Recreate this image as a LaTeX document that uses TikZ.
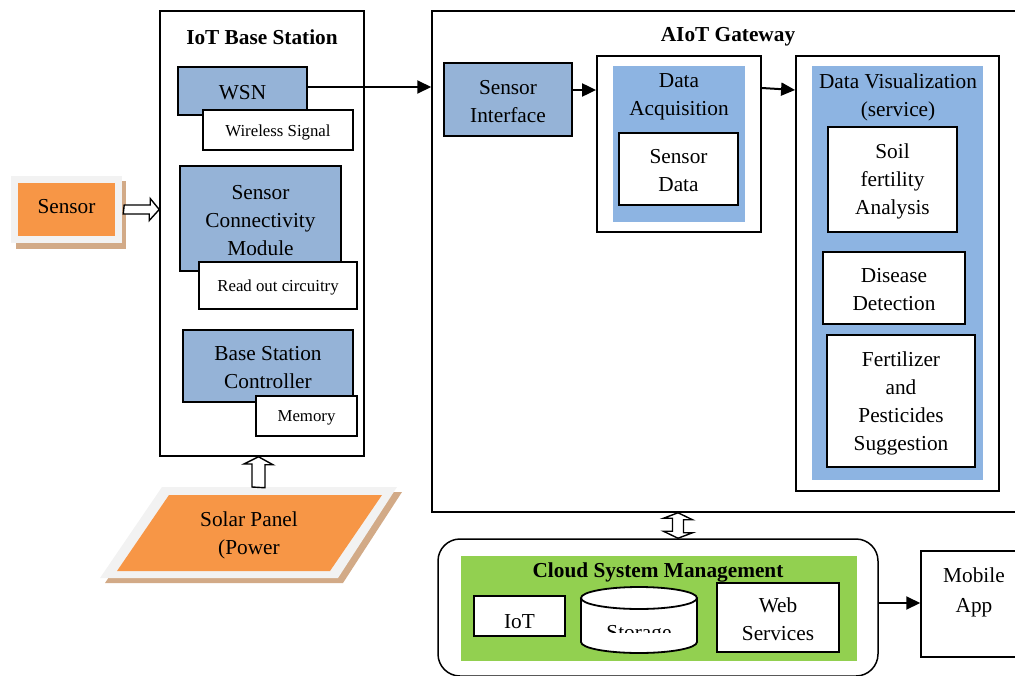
\documentclass[tikz,border=0pt]{standalone}
\usepackage{fontspec}
\setmainfont{Liberation Serif}
\usetikzlibrary{calc,arrows.meta}
\definecolor{blueA}{HTML}{95B3D7}
\definecolor{blueB}{HTML}{8DB4E2}
\definecolor{orangeA}{HTML}{F79646}
\definecolor{greenA}{HTML}{92D050}
\definecolor{tanA}{RGB}{210,170,135}
\definecolor{greyA}{RGB}{242,242,242}
\newcommand\mf{\fontsize{21.3}{28}\selectfont}
\newcommand\smf{\fontsize{16.8}{19}\selectfont}
\newcommand\tf{\fontsize{21.3}{24}\selectfont\bfseries}
\tikzset{
  box/.style={draw, inner sep=0pt, align=center, font=\mf},
  outerbox/.style={box, line width=1.5pt, fill=white},
  bluebox/.style={box, line width=2pt, fill=blueA},
  whitebox/.style={box, line width=2pt, fill=white},
  smallbox/.style={box, line width=1.5pt, fill=white, font=\smf},
  txt/.style={inner sep=0pt, align=center, font=\mf},
  ttl/.style={inner sep=0pt, align=center, font=\tf},
  T/.style={label={[txt,yshift=-2pt]center:{#1}}},
  TS/.style={label={[txt,font=\smf,yshift=-2pt]center:{#1}}},
  conn/.style={line width=2pt, -{Triangle[length=14pt,width=13pt]}},
  hollow/.style={draw, line width=1.4pt, fill=white, line join=miter},
}
\begin{document}
\begin{tikzpicture}[x=1pt,y=-1pt]
\useasboundingbox (0,0) rectangle (1015,675);
% ---------- IoT Base Station ----------
\node[outerbox, minimum width=204pt, minimum height=445pt] (bs) at (262,233.5) {};
\node[ttl] (bstitle) at (262,37) {IoT Base Station};
\node[bluebox, minimum width=129pt, minimum height=48pt, T={WSN}] (wsn) at (242.5,91) {};
\node[smallbox, minimum width=150pt, minimum height=40pt, TS={Wireless Signal}] (wls) at (278,130) {};
\node[bluebox, minimum width=161pt, minimum height=105pt, T={Sensor\\Connectivity\\Module}] (scm) at (260.5,218.5) {};
\node[smallbox, minimum width=158pt, minimum height=47pt, TS={Read out circuitry}] (roc) at (278,285.5) {};
\node[bluebox, minimum width=170pt, minimum height=72pt, T={Base Station\\Controller}] (bsc) at (268,366) {};
\node[smallbox, minimum width=101pt, minimum height=40pt, TS={Memory}] (mem) at (306.5,416) {};
% ---------- Sensor ----------
\fill[tanA] (16,181) rectangle (126,249);
\node[draw=none, fill=greyA, minimum width=111pt, minimum height=67pt, inner sep=0pt] (sensorbg) at (66.5,209.5) {};
\node[box, draw=none, fill=orangeA, minimum width=97pt, minimum height=53pt] (sensor) at (66.5,209.5) {};
\node[txt] (sensortxt) at (66.5,207) {Sensor};
\draw[hollow] ($(sensorbg.east)+(2,-4.5)$) -- ++(26,0) -- ++(0,-6.5) -- (bs.west |- sensorbg.east) -- ++(-10,11) -- ++(0,-6.5) -- ++(-26,0) -- cycle;
% ---------- Solar panel ----------
\fill[tanA] (167,492) -- (402,492) -- (343,583) -- (105,583) -- cycle;
\fill[greyA] (162,487) -- (397,487) -- (338,578) -- (100,578) -- cycle;
\fill[orangeA] (169,495) -- (382,495) -- (330,571) -- (117,571) -- cycle;
\node[txt] (solar) at (249,535) {Solar Panel\\(Power};
\coordinate (solartop) at (258.5,487);
\draw[hollow] ($(solartop)+(-6.5,0)$) -- ++(0,-23) -- ++(-8,0) -- (solartop |- bs.south) -- ++(14.5,8) -- ++(-8,0) -- ++(0,23) -- cycle;
% ---------- AIoT Gateway ----------
\node[outerbox, minimum width=593pt, minimum height=501pt] (gw) at (728.5,261.5) {};
\node[ttl] (gwtitle) at (728,37) {AIoT Gateway};
\node[bluebox, minimum width=128pt, minimum height=73pt, T={Sensor\\Interface}] (si) at (508,99.5) {};
\node[outerbox, line width=1.8pt, minimum width=164pt, minimum height=176pt] (da) at (679,144) {};
\node[box, draw=none, fill=blueB, minimum width=132pt, minimum height=156pt] (dab) at (679,144) {};
\node[txt] (datitle) at (679,97) {Data\\Acquisition};
\node[whitebox, minimum width=119pt, minimum height=72pt, T={Sensor\\Data}] (sd) at (678.5,169) {};
\node[outerbox, line width=1.8pt, minimum width=203pt, minimum height=435pt] (dv) at (897.5,273.5) {};
\node[box, draw=none, fill=blueB, minimum width=171pt, minimum height=414pt] (dvb) at (897.5,273) {};
\node[txt] (dvtitle) at (898,97) {Data Visualization\\(service)};
\node[whitebox, minimum width=129pt, minimum height=105pt, T={Soil\\fertility\\Analysis}] (soil) at (892.5,179.5) {};
\node[whitebox, minimum width=142pt, minimum height=72pt, T={Disease\\Detection}] (dis) at (894,288) {};
\node[whitebox, minimum width=148pt, minimum height=132pt, T={Fertilizer\\and\\Pesticides\\Suggestion}] (fert) at (901,401) {};
% connectors
\draw[conn] ($(wsn.east)+(0,-4)$) -- ($(gw.west |- wsn.east)+(0,-4)$);
\draw[conn] ($(si.east)+(0,-9.5)$) -- ($(da.west |- si.east)+(0,-9.5)$);
\draw[conn] ($(da.east)+(0,-56)$) -- ($(dv.west)+(0,-183.5)$);
% ---------- Cloud ----------
\node[outerbox, rounded corners=22pt, minimum width=440pt, minimum height=137pt] (cloud) at (658,607.5) {};
\node[box, draw=none, fill=greenA, minimum width=396pt, minimum height=105pt] (green) at (659,608.5) {};
\node[ttl] (cltitle) at (658,572.5) {Cloud System Management};
\node[whitebox, minimum width=91pt, minimum height=40pt] (iot) at (519.5,616) {};
\node[txt, anchor=base] (iottxt) at (519.5,628) {IoT};
% storage cylinder
\draw[line width=1.8pt, fill=white] (581,598) -- (581,642) arc[start angle=180, end angle=0, x radius=58, y radius=11] -- (697,598);
\draw[line width=1.8pt, fill=white] (639,598) ellipse[x radius=58, y radius=11];
\begin{scope}
\clip (582,610) rectangle (696,632.5);
\node[txt, anchor=base] (stor) at (639,639) {Storage};
\end{scope}
\node[whitebox, minimum width=122pt, minimum height=69pt, T={Web\\Services}] (web) at (778,617.5) {};
% Mobile app
\node[outerbox, minimum width=104pt, minimum height=106pt] (mobile) at (973,604) {};
\node[inner sep=0pt, align=center, font=\fontsize{21.3}{30}\selectfont] (mobtxt) at (974,592) {Mobile\\App};
\draw[conn] ($(cloud.east)+(0,-4.5)$) -- ($(mobile.west |- cloud.east)+(0,-4.5)$);
% double hollow arrow
\coordinate (dtop) at ($(gw.south)+(-50.5,0)$);
\coordinate (dbot) at (dtop |- cloud.north);
\draw[hollow] (dtop) -- ++(14.5,7) -- ++(-9,0) -- ++(0,13) -- ++(9,0) -- (dbot) -- ++(-14.5,-7) -- ++(9,0) -- ++(0,-13) -- ++(-9,0) -- cycle;
\end{tikzpicture}
\end{document}
